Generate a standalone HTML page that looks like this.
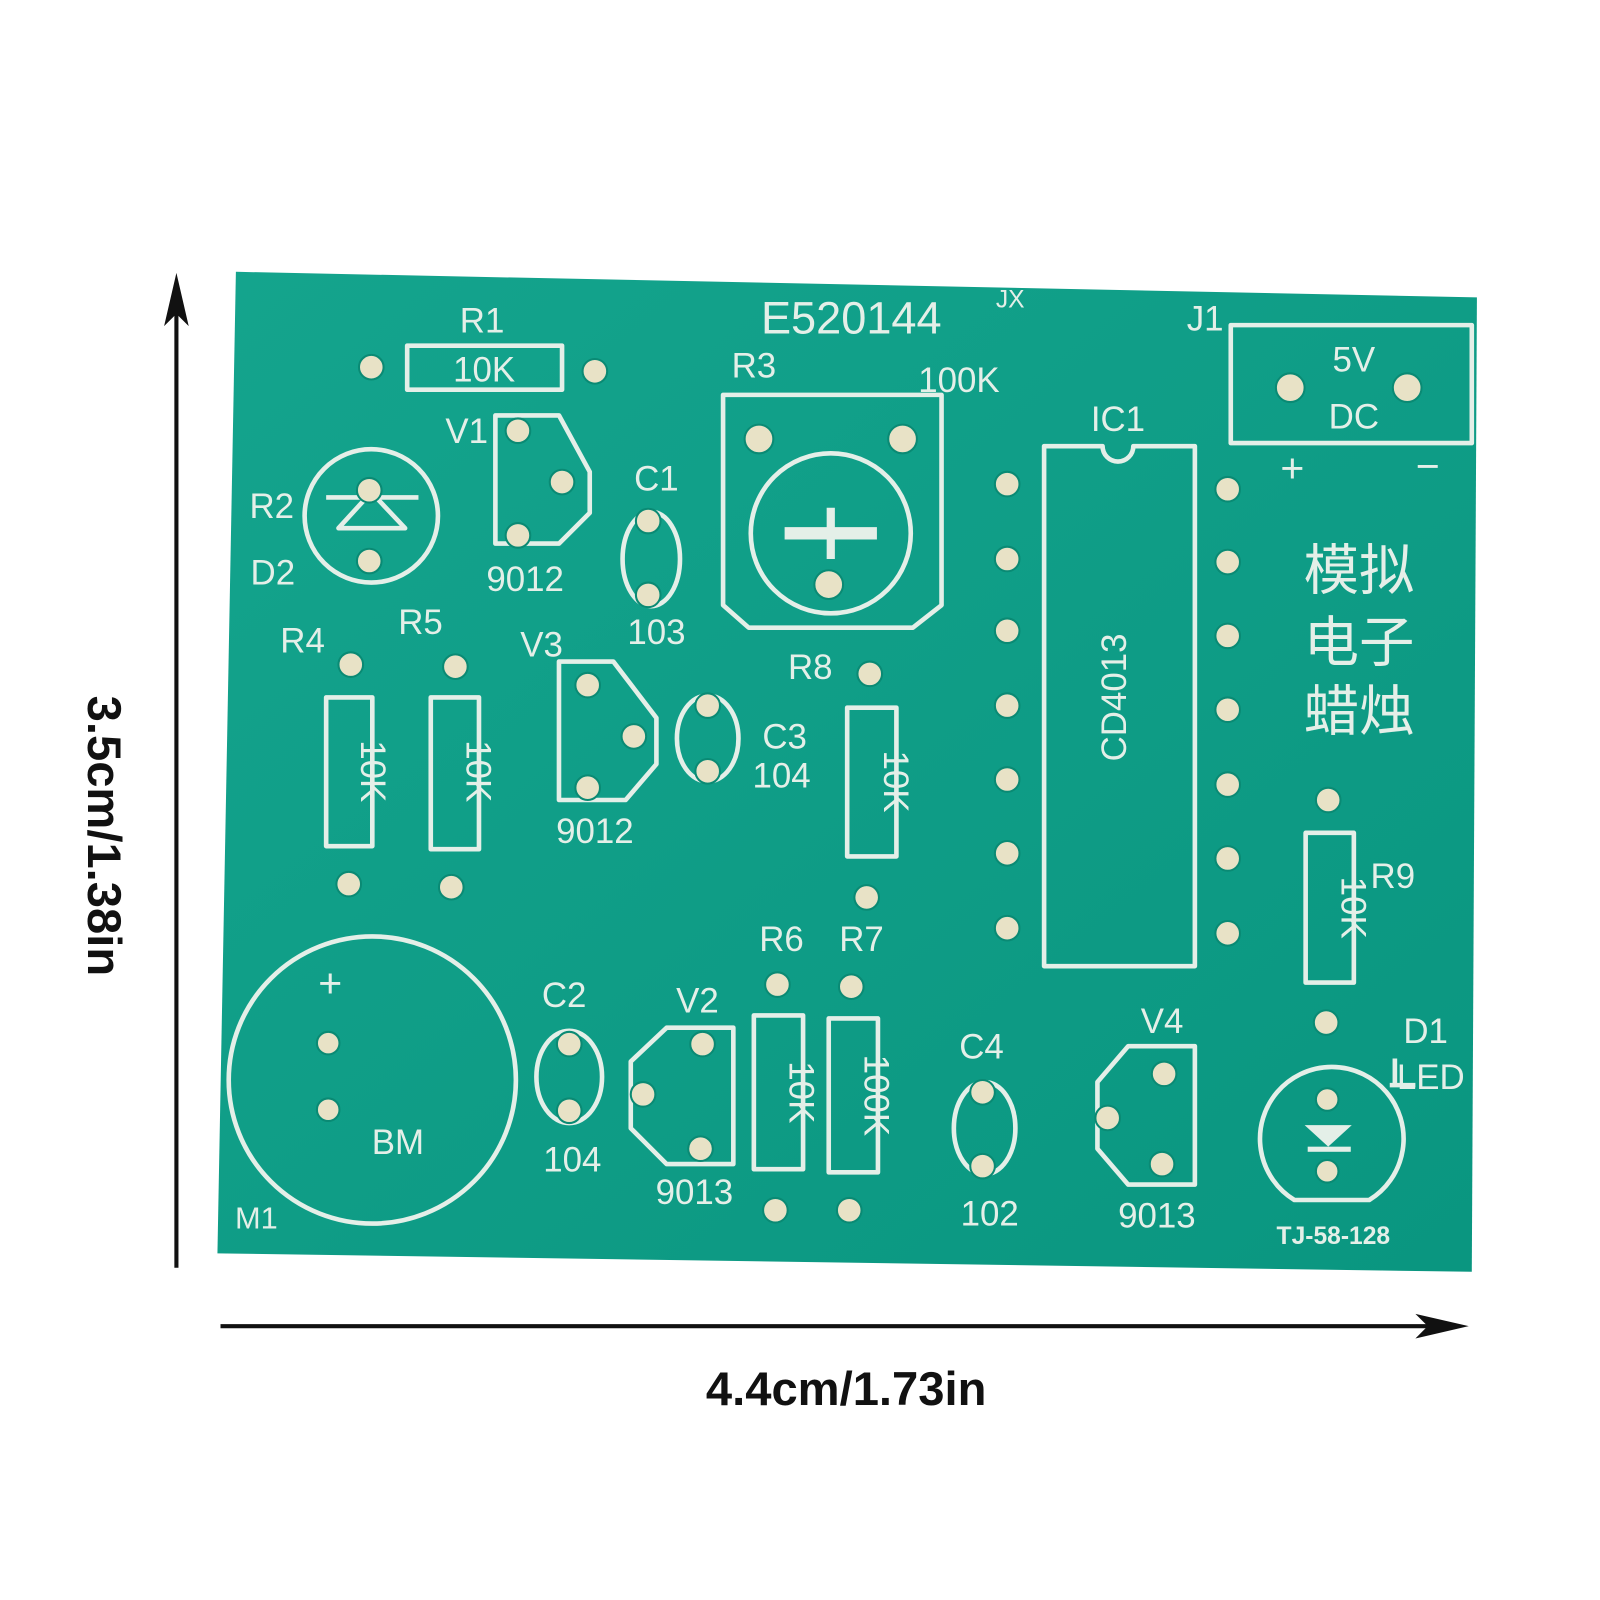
<!DOCTYPE html>
<html><head><meta charset="utf-8"><style>
html,body{margin:0;padding:0;background:#fff;}
svg{display:block;}
.s{fill:none;stroke:#e4efe8;stroke-width:4.5;stroke-linejoin:round}
.t{fill:#e4efe8;font-family:"Liberation Sans","Noto Sans CJK SC",sans-serif;font-size:34px;text-anchor:middle}
.p{fill:#e8e2c6;stroke:#0a8a74;stroke-width:2}
.k{font-family:"Liberation Sans",sans-serif;font-weight:bold;font-size:46px;fill:#111;text-anchor:middle}
</style></head><body>
<svg width="1600" height="1600" viewBox="0 0 1560 1560" xmlns="http://www.w3.org/2000/svg">
<defs><linearGradient id="g" x1="0" y1="0" x2="1" y2="1"><stop offset="0" stop-color="#14a48d"/><stop offset="1" stop-color="#0a9680"/></linearGradient></defs>
<rect width="1560" height="1560" fill="#fff"/>
<polygon points="230,265 1440,290 1435,1240 212,1222" fill="url(#g)"/>
<!-- dimension arrows -->
<line x1="172" y1="1236" x2="172" y2="280" stroke="#111" stroke-width="4"/>
<polygon points="172,266 160,318 172,306 184,318" fill="#111"/>
<line x1="215" y1="1293" x2="1420" y2="1293" stroke="#111" stroke-width="4"/>
<polygon points="1432,1293 1380,1281 1392,1293 1380,1305" fill="#111"/>
<text class="k" transform="translate(86,815) rotate(90)">3.5cm/1.38in</text>
<text class="k" x="825" y="1370">4.4cm/1.73in</text>

<!-- R1 -->
<rect class="s" x="397" y="337" width="151" height="43"/>
<text class="t" x="470" y="324">R1</text><text class="t" x="472" y="372">10K</text>
<circle class="p" cx="362" cy="358" r="12"/><circle class="p" cx="580" cy="362" r="12"/>
<!-- V1 -->
<polygon class="s" points="483,405 545,405 575,460 575,500 545,530 483,530"/>
<circle class="p" cx="505" cy="420" r="12"/><circle class="p" cx="548" cy="470" r="12"/><circle class="p" cx="505" cy="522" r="12"/>
<text class="t" x="455" y="432">V1</text><text class="t" x="512" y="576">9012</text>
<!-- R2 D2 -->
<circle class="s" cx="362" cy="503" r="65"/>
<path class="s" d="M318,485 L408,485 M330,515 L395,515 L362,480 Z" />
<circle class="p" cx="360" cy="478" r="12"/><circle class="p" cx="360" cy="547" r="12"/>
<text class="t" x="265" y="505">R2</text><text class="t" x="266" y="570">D2</text>
<!-- C1 -->
<ellipse class="s" cx="635" cy="545" rx="28" ry="46"/>
<circle class="p" cx="632" cy="508" r="12"/><circle class="p" cx="632" cy="580" r="12"/>
<text class="t" x="640" y="478">C1</text><text class="t" x="640" y="628">103</text>
<!-- R3 -->
<polygon class="s" points="705,385 918,385 918,590 890,612 730,612 705,590"/>
<circle class="s" cx="810" cy="520" r="78"/>
<path d="M765,520 L855,520" stroke="#e4efe8" stroke-width="12"/><path d="M810,495 L810,545" stroke="#e4efe8" stroke-width="8"/>
<circle class="p" cx="740" cy="428" r="14"/><circle class="p" cx="880" cy="428" r="14"/><circle class="p" cx="808" cy="570" r="14"/>
<text class="t" x="735" y="368">R3</text><text class="t" x="935" y="382">100K</text>
<text class="t" x="830" y="325" style="font-size:44px">E520144</text><text class="t" x="985" y="300" style="font-size:24px">JX</text>
<!-- IC1 -->
<path class="s" d="M1018,435 L1075,435 A15,15 0 0 0 1105,435 L1165,435 L1165,942 L1018,942 Z"/>
<text class="t" x="1090" y="420">IC1</text>
<text class="t" transform="translate(1098,680) rotate(-90)">CD4013</text>
<g class="p">
<circle cx="982" cy="472" r="12"/><circle cx="982" cy="545" r="12"/><circle cx="982" cy="615" r="12"/><circle cx="982" cy="688" r="12"/><circle cx="982" cy="760" r="12"/><circle cx="982" cy="832" r="12"/><circle cx="982" cy="905" r="12"/>
<circle cx="1197" cy="477" r="12"/><circle cx="1197" cy="548" r="12"/><circle cx="1197" cy="620" r="12"/><circle cx="1197" cy="692" r="12"/><circle cx="1197" cy="765" r="12"/><circle cx="1197" cy="837" r="12"/><circle cx="1197" cy="910" r="12"/>
</g>
<!-- J1 -->
<rect class="s" x="1200" y="317" width="235" height="115"/>
<circle class="p" cx="1258" cy="378" r="14"/><circle class="p" cx="1372" cy="378" r="14"/>
<text class="t" x="1320" y="362">5V</text><text class="t" x="1320" y="418">DC</text>
<text class="t" x="1175" y="322">J1</text>
<text class="t" x="1260" y="470" style="font-size:40px">+</text><text class="t" x="1392" y="468" style="font-size:40px">−</text>
<text class="t" x="1325" y="575" style="font-size:54px">模拟</text>
<text class="t" x="1325" y="645" style="font-size:54px">电子</text>
<text class="t" x="1325" y="712" style="font-size:54px">蜡烛</text>
<!-- R4 R5 -->
<rect class="s" x="318" y="680" width="45" height="145"/><text class="t" transform="translate(352,752) rotate(90)">10K</text>
<rect class="s" x="420" y="680" width="47" height="148"/><text class="t" transform="translate(455,752) rotate(90)">10K</text>
<circle class="p" cx="342" cy="648" r="12"/><circle class="p" cx="340" cy="862" r="12"/>
<circle class="p" cx="444" cy="650" r="12"/><circle class="p" cx="440" cy="865" r="12"/>
<text class="t" x="295" y="636">R4</text><text class="t" x="410" y="618">R5</text>
<!-- V3 -->
<polygon class="s" points="545,645 598,645 640,700 640,745 610,780 545,780"/>
<circle class="p" cx="573" cy="668" r="12"/><circle class="p" cx="618" cy="718" r="12"/><circle class="p" cx="573" cy="768" r="12"/>
<text class="t" x="528" y="640">V3</text><text class="t" x="580" y="822">9012</text>
<!-- C3 -->
<ellipse class="s" cx="690" cy="720" rx="30" ry="42"/>
<circle class="p" cx="690" cy="688" r="12"/><circle class="p" cx="690" cy="752" r="12"/>
<text class="t" x="765" y="730">C3</text><text class="t" x="762" y="768">104</text>
<!-- R8 -->
<rect class="s" x="826" y="690" width="48" height="145"/><text class="t" transform="translate(862,762) rotate(90)">10K</text>
<circle class="p" cx="848" cy="657" r="12"/><circle class="p" cx="845" cy="875" r="12"/>
<text class="t" x="790" y="662">R8</text>
<!-- R9 -->
<rect class="s" x="1273" y="812" width="47" height="146"/><text class="t" transform="translate(1308,885) rotate(90)">10K</text>
<circle class="p" cx="1295" cy="780" r="12"/><circle class="p" cx="1293" cy="997" r="12"/>
<text class="t" x="1358" y="866">R9</text>
<!-- BM -->
<circle class="s" cx="363" cy="1053" r="140"/>
<text class="t" x="322" y="972" style="font-size:40px">+</text>
<circle class="p" cx="320" cy="1017" r="11"/><circle class="p" cx="320" cy="1082" r="11"/>
<text class="t" x="388" y="1125">BM</text><text class="t" x="250" y="1198" style="font-size:30px">M1</text>
<!-- C2 -->
<ellipse class="s" cx="555" cy="1050" rx="32" ry="45"/>
<circle class="p" cx="555" cy="1018" r="12"/><circle class="p" cx="555" cy="1083" r="12"/>
<text class="t" x="550" y="982">C2</text><text class="t" x="558" y="1142">104</text>
<!-- V2 -->
<polygon class="s" points="615,1035 650,1002 715,1002 715,1135 650,1135 615,1100"/>
<circle class="p" cx="685" cy="1018" r="12"/><circle class="p" cx="627" cy="1067" r="12"/><circle class="p" cx="683" cy="1120" r="12"/>
<text class="t" x="680" y="987">V2</text><text class="t" x="677" y="1174">9013</text>
<!-- R6 R7 -->
<rect class="s" x="735" y="990" width="48" height="150"/><text class="t" transform="translate(770,1065) rotate(90)">10K</text>
<rect class="s" x="808" y="993" width="48" height="150"/><text class="t" transform="translate(843,1068) rotate(90)">100K</text>
<circle class="p" cx="758" cy="960" r="12"/><circle class="p" cx="756" cy="1180" r="12"/>
<circle class="p" cx="830" cy="962" r="12"/><circle class="p" cx="828" cy="1180" r="12"/>
<text class="t" x="762" y="927">R6</text><text class="t" x="840" y="927">R7</text>
<!-- C4 -->
<ellipse class="s" cx="960" cy="1100" rx="30" ry="45"/>
<circle class="p" cx="958" cy="1065" r="12"/><circle class="p" cx="958" cy="1137" r="12"/>
<text class="t" x="957" y="1032">C4</text><text class="t" x="965" y="1195">102</text>
<!-- V4 -->
<polygon class="s" points="1100,1020 1165,1020 1165,1155 1100,1155 1070,1120 1070,1055"/>
<circle class="p" cx="1135" cy="1047" r="12"/><circle class="p" cx="1080" cy="1090" r="12"/><circle class="p" cx="1133" cy="1135" r="12"/>
<text class="t" x="1133" y="1007">V4</text><text class="t" x="1128" y="1197">9013</text>
<!-- D1 -->
<path class="s" d="M1262,1170 A70,70 0 1 1 1335,1170 Z"/>
<path class="s" d="M1355,1058 L1380,1058 M1360,1032 L1360,1060"/>
<polygon points="1272,1097 1318,1097 1295,1118" fill="#e4efe8"/><rect x="1275" y="1118" width="42" height="5" fill="#e4efe8"/>
<circle class="p" cx="1294" cy="1072" r="11"/><circle class="p" cx="1294" cy="1142" r="11"/>
<text class="t" x="1390" y="1017">D1</text><text class="t" x="1395" y="1062">LED</text>
<text class="t" x="1300" y="1213" style="font-size:24px;font-weight:bold">TJ-58-128</text>
</svg>
</body></html>
